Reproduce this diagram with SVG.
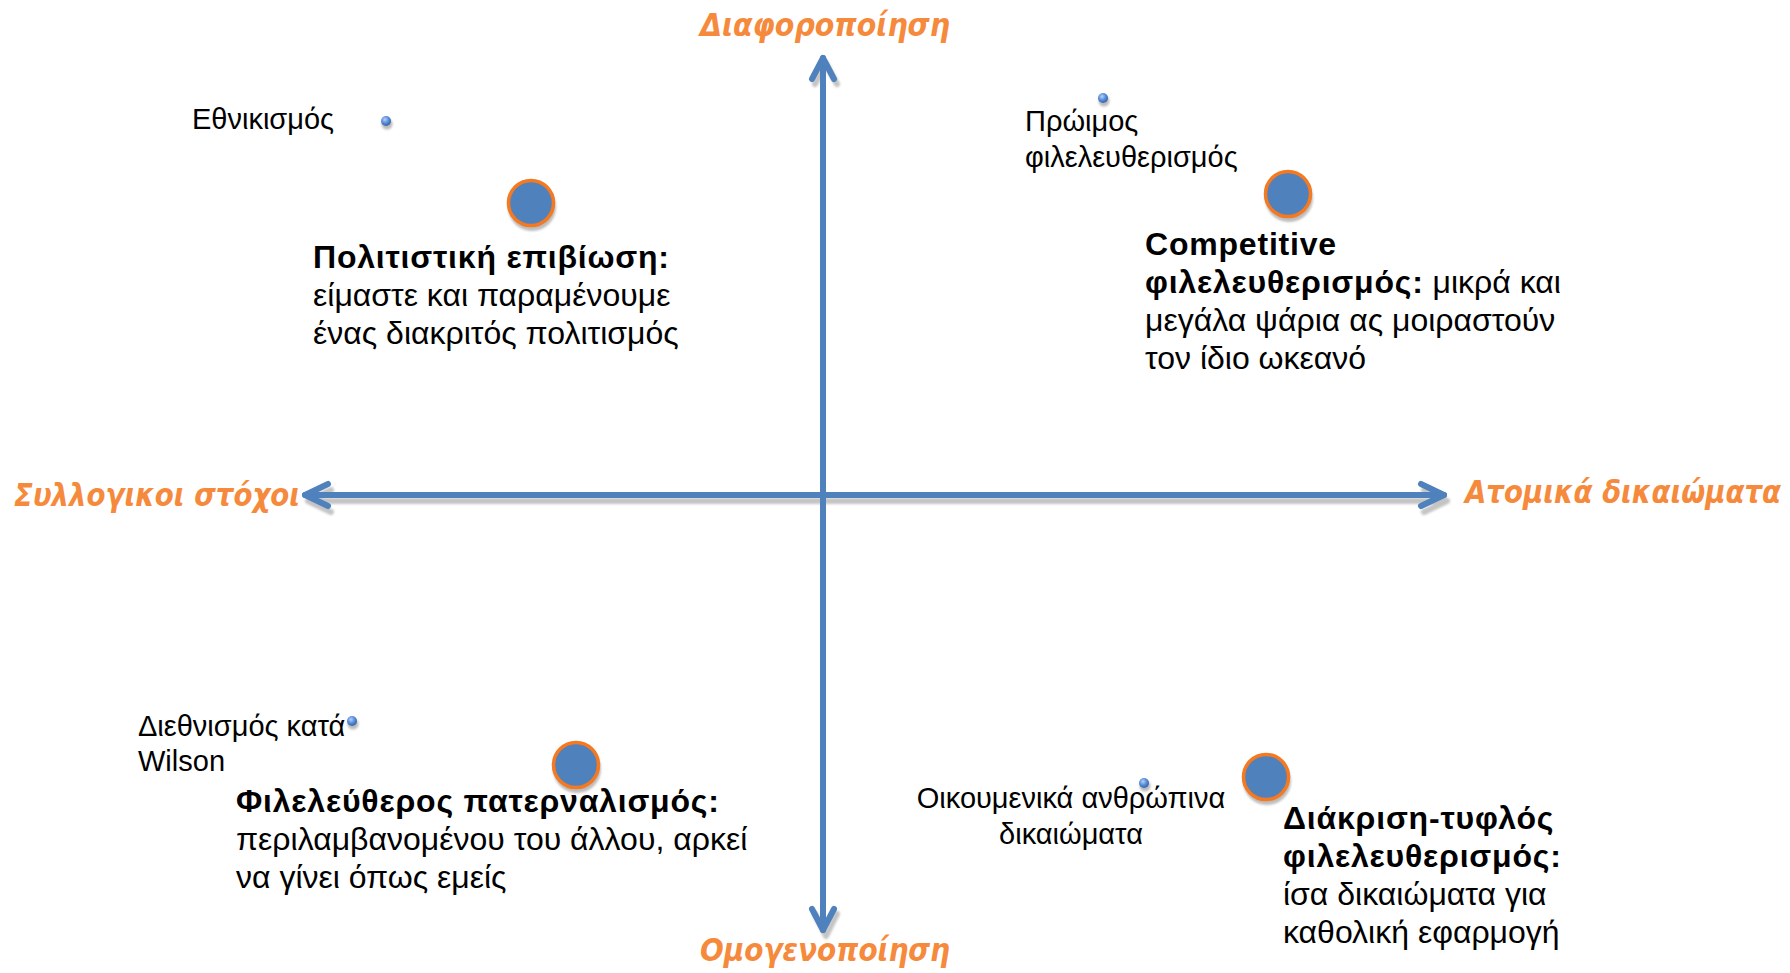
<svg xmlns="http://www.w3.org/2000/svg" width="1790" height="973" viewBox="0 0 1790 973">
<defs>
<style>
.axis{fill:none;stroke:#4f81bd;stroke-width:6;stroke-linecap:round;stroke-linejoin:round}
.axsh{fill:none;stroke:#c4c4c4;stroke-width:6;stroke-linecap:round;stroke-linejoin:round}
.title{font-family:"DejaVu Sans","Liberation Sans",sans-serif;font-weight:bold;font-style:italic;font-size:32px;fill:#f68a3c}
.body{font-family:"Liberation Sans","DejaVu Sans",sans-serif;font-size:32px;fill:#000}
.b{font-weight:bold;letter-spacing:0.8px}
.small{font-family:"Liberation Sans","DejaVu Sans",sans-serif;font-size:29px;fill:#000}
.big{fill:#4f81bd;stroke:#f47920;stroke-width:3.5}
.bigsh{fill:#bdbdbd}
.dot{fill:url(#dotg)}
</style>
<radialGradient id="dotg" cx="0.4" cy="0.35" r="0.7">
<stop offset="0" stop-color="#b6d2f5"/>
<stop offset="0.5" stop-color="#5b8fdb"/>
<stop offset="1" stop-color="#2d5ca8"/>
</radialGradient>
<filter id="blur" x="-20%" y="-20%" width="140%" height="140%"><feGaussianBlur stdDeviation="1.2"/></filter>
</defs>
<rect width="1790" height="973" fill="#fff"/>

<g id="connectors">
<g transform="translate(3,6)" filter="url(#blur)">
<path class="axsh" d="M305,495 L1444,495 M328,484 L305,495 L328,506 M1421,484 L1444,495 L1421,506"/>
<path class="axsh" d="M812,78 L823,58 L834,78 M812,908 L823,930 L834,908"/>
</g>
<path class="axis" d="M823,58 L823,930"/>
<path class="axis" d="M305,495 L1444,495"/>
<path class="axis" d="M812,79 L823,58 L834,79"/>
<path class="axis" d="M812,909 L823,930 L834,909"/>
<path class="axis" d="M328,484 L305,495 L328,506"/>
<path class="axis" d="M1421,484 L1444,495 L1421,506"/>
</g>

<g id="axis-labels">
<text class="title" x="700" y="36" textLength="250" lengthAdjust="spacingAndGlyphs">Διαφοροποίηση</text>
<text class="title" x="700" y="961" textLength="250" lengthAdjust="spacingAndGlyphs">Ομογενοποίηση</text>
<text class="title" x="14" y="506" textLength="286" lengthAdjust="spacingAndGlyphs">Συλλογικοι στόχοι</text>
<text class="title" x="1465" y="503" textLength="316" lengthAdjust="spacingAndGlyphs">Ατομικά δικαιώματα</text>
</g>

<g id="node-cultural-survival">
<circle class="bigsh" cx="532" cy="207" r="24" filter="url(#blur)"/>
<circle class="big" cx="531" cy="203" r="22.5"/>
<text class="body" x="313" y="268"><tspan class="b">Πολιτιστική επιβίωση:</tspan></text>
<text class="body" x="313" y="306">είμαστε και παραμένουμε</text>
<text class="body" x="313" y="344">ένας διακριτός πολιτισμός</text>
</g>

<g id="node-competitive">
<circle class="bigsh" cx="1289" cy="198" r="24" filter="url(#blur)"/>
<circle class="big" cx="1288" cy="194" r="22.5"/>
<text class="body" x="1145" y="255"><tspan class="b">Competitive</tspan></text>
<text class="body" x="1145" y="293"><tspan class="b">φιλελευθερισμός:</tspan> μικρά και</text>
<text class="body" x="1145" y="331">μεγάλα ψάρια ας μοιραστούν</text>
<text class="body" x="1145" y="369">τον ίδιο ωκεανό</text>
</g>

<g id="node-paternalism">
<circle class="bigsh" cx="577" cy="769" r="24" filter="url(#blur)"/>
<circle class="big" cx="576" cy="765" r="22.5"/>
<text class="body" x="236" y="812"><tspan class="b">Φιλελεύθερος πατερναλισμός:</tspan></text>
<text class="body" x="236" y="850">περιλαμβανομένου του άλλου, αρκεί</text>
<text class="body" x="236" y="888">να γίνει όπως εμείς</text>
</g>

<g id="node-blind">
<circle class="bigsh" cx="1267" cy="781" r="24" filter="url(#blur)"/>
<circle class="big" cx="1266" cy="777" r="22.5"/>
<text class="body" x="1283" y="829"><tspan class="b">Διάκριση-τυφλός</tspan></text>
<text class="body" x="1283" y="867"><tspan class="b">φιλελευθερισμός:</tspan></text>
<text class="body" x="1283" y="905">ίσα δικαιώματα για</text>
<text class="body" x="1283" y="943">καθολική εφαρμογή</text>
</g>

<g id="node-nationalism">
<circle cx="387" cy="124" r="5.5" fill="#bbb" filter="url(#blur)"/>
<circle class="dot" cx="386" cy="121" r="5"/>
<text class="small" x="192" y="129">Εθνικισμός</text>
</g>

<g id="node-early-liberalism">
<circle cx="1104" cy="101" r="5.5" fill="#bbb" filter="url(#blur)"/>
<circle class="dot" cx="1103" cy="98" r="5"/>
<text class="small" x="1025" y="131">Πρώιμος</text>
<text class="small" x="1025" y="167">φιλελευθερισμός</text>
</g>

<g id="node-wilson">
<circle cx="353" cy="724" r="5.5" fill="#bbb" filter="url(#blur)"/>
<text class="small" x="138" y="736">Διεθνισμός κατά</text>
<text class="small" x="138" y="771">Wilson</text>
<circle class="dot" cx="352" cy="721" r="5"/>
</g>

<g id="node-human-rights">
<circle cx="1145" cy="786" r="5.5" fill="#bbb" filter="url(#blur)"/>
<text class="small" x="1071" y="808" text-anchor="middle">Οικουμενικά ανθρώπινα</text>
<text class="small" x="1071" y="844" text-anchor="middle">δικαιώματα</text>
<circle class="dot" cx="1144" cy="783" r="5"/>
</g>
</svg>
